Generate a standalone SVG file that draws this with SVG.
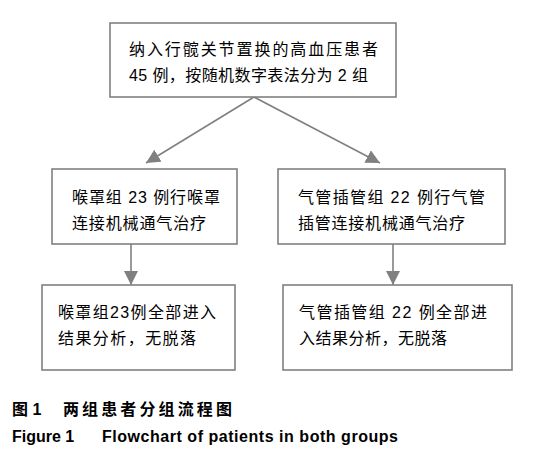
<svg xmlns="http://www.w3.org/2000/svg" width="536" height="459" viewBox="0 0 536 459">
<style>
.box{fill:#fff;stroke:#808080;stroke-width:1.6}
.t{font-family:"Liberation Sans","Noto Sans CJK SC",sans-serif;font-size:16px;fill:#000}
.cap{font-family:"Liberation Sans","Noto Sans CJK SC",sans-serif;font-size:16px;font-weight:bold;fill:#000}
.c{stroke:#808080;stroke-width:1.6;fill:none}
</style>
<defs>
<marker id="ah" markerUnits="userSpaceOnUse" markerWidth="16" markerHeight="14" refX="14" refY="7" orient="auto">
<path d="M0,0 L14,7 L0,14 z" fill="#808080"/>
</marker>
</defs>
<rect width="536" height="459" fill="#fff"/>
<g id="connectors">
<line class="c" x1="254" y1="97" x2="146" y2="163" marker-end="url(#ah)"/>
<line class="c" x1="254" y1="97" x2="380" y2="163" marker-end="url(#ah)"/>
<line class="c" x1="131" y1="244" x2="131" y2="285" marker-end="url(#ah)"/>
<line class="c" x1="393" y1="244" x2="393" y2="285" marker-end="url(#ah)"/>
</g>
<g id="top">
<rect class="box" x="110" y="23" width="286" height="74"/>
<text class="t" x="129" y="55" textLength="249" lengthAdjust="spacing">纳入行髋关节置换的高血压患者</text>
<text class="t" x="129" y="81" textLength="239" lengthAdjust="spacing">45 例，按随机数字表法分为 2 组</text>
</g>
<g id="midLeft">
<rect class="box" x="52" y="169" width="185" height="75"/>
<text class="t" x="72" y="203" textLength="148" lengthAdjust="spacing">喉罩组 23 例行喉罩</text>
<text class="t" x="72" y="229" textLength="134" lengthAdjust="spacing">连接机械通气治疗</text>
</g>
<g id="midRight">
<rect class="box" x="278" y="169" width="227" height="75"/>
<text class="t" x="298" y="203" textLength="187" lengthAdjust="spacing">气管插管组 22 例行气管</text>
<text class="t" x="298" y="229" textLength="167" lengthAdjust="spacing">插管连接机械通气治疗</text>
</g>
<g id="botLeft">
<rect class="box" x="42" y="285" width="193" height="85"/>
<text class="t" x="58" y="318" textLength="158" lengthAdjust="spacing">喉罩组23例全部进入</text>
<text class="t" x="58" y="344" textLength="138" lengthAdjust="spacing">结果分析，无脱落</text>
</g>
<g id="botRight">
<rect class="box" x="283" y="285" width="229" height="85"/>
<text class="t" x="299" y="318" textLength="188" lengthAdjust="spacing">气管插管组 22 例全部进</text>
<text class="t" x="299" y="344" textLength="148" lengthAdjust="spacing">入结果分析，无脱落</text>
</g>
<g id="caption">
<text class="cap" x="12" y="415">图 1</text>
<text class="cap" x="63" y="415" textLength="169" lengthAdjust="spacing">两组患者分组流程图</text>
<text class="cap" x="12" y="442">Figure 1</text>
<text class="cap" x="102" y="442" textLength="296" lengthAdjust="spacing">Flowchart of patients in both groups</text>
</g>
</svg>
